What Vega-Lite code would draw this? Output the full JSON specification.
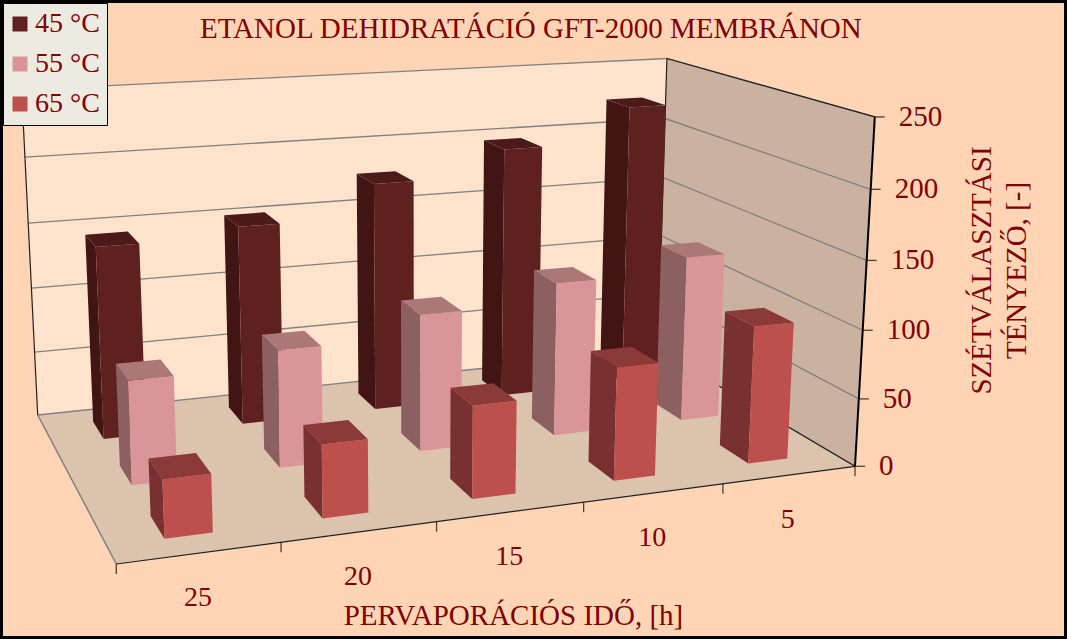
{
"$schema":"https://vega.github.io/schema/vega-lite/v6.json",
"width":1067,"height":639,"autosize":"none","padding":0,
"background":"#FFD5B5",
"view":{"stroke":"#000000","strokeWidth":6,"fill":"#FFD5B5"},
"config":{"font":"Liberation Serif"},
"title":{"text":"ETANOL DEHIDRATÁCIÓ GFT-2000 MEMBRÁNON","font":"Liberation Serif","fontSize":29,"fontWeight":"normal","color":"#800000","anchor":"start","frame":"group","dx":200,"offset":-44},
"datasets":{
"bars":[
{"ora":5,"temp":45,"ertek":224},{"ora":10,"temp":45,"ertek":197},{"ora":15,"temp":45,"ertek":177},{"ora":20,"temp":45,"ertek":152},{"ora":25,"temp":45,"ertek":145},
{"ora":5,"temp":55,"ertek":127},{"ora":10,"temp":55,"ertek":116},{"ora":15,"temp":55,"ertek":102},{"ora":20,"temp":55,"ertek":86},{"ora":25,"temp":55,"ertek":75},
{"ora":5,"temp":65,"ertek":101},{"ora":10,"temp":65,"ertek":82},{"ora":15,"temp":65,"ertek":66},{"ora":20,"temp":65,"ertek":51},{"ora":25,"temp":65,"ertek":40}
],
"walls":[
{"shade":"back wall","c":0,"s":0,"t":1,"w":0},{"shade":"back wall","c":1,"s":1,"t":1,"w":0},{"shade":"back wall","c":2,"s":1,"t":1,"w":1},{"shade":"back wall","c":3,"s":0,"t":1,"w":1},
{"shade":"side wall","c":0,"s":1,"t":1,"w":0},{"shade":"side wall","c":1,"s":1,"t":0,"w":0},{"shade":"side wall","c":2,"s":1,"t":0,"w":1},{"shade":"side wall","c":3,"s":1,"t":1,"w":1},
{"shade":"floor","c":0,"s":0,"t":0,"w":0},{"shade":"floor","c":1,"s":1,"t":0,"w":0},{"shade":"floor","c":2,"s":1,"t":1,"w":0},{"shade":"floor","c":3,"s":0,"t":1,"w":0}
],
"thinEdges":[
{"edge":"back vertical","c":0,"s":1,"t":1,"w":0},{"edge":"back vertical","c":1,"s":1,"t":1,"w":1},
{"edge":"left vertical","c":0,"s":0,"t":1,"w":0},{"edge":"left vertical","c":1,"s":0,"t":1,"w":1},
{"edge":"side top","c":0,"s":1,"t":1,"w":1},{"edge":"side top","c":1,"s":1,"t":0,"w":1},
{"edge":"side bottom","c":0,"s":1,"t":1,"w":0},{"edge":"side bottom","c":1,"s":1,"t":0,"w":0},
{"edge":"front","c":0,"s":0,"t":0,"w":0},{"edge":"front","c":1,"s":1,"t":0,"w":0}
],
"thickEdges":[
{"edge":"right vertical","c":0,"s":1,"t":0,"w":0},{"edge":"right vertical","c":1,"s":1,"t":0,"w":1}
],
"grayEdges":[
{"edge":"floor left","c":0,"s":0,"t":0,"w":0},{"edge":"floor left","c":1,"s":0,"t":1,"w":0}
],
"valueTicks":[{"tick":0},{"tick":50},{"tick":100},{"tick":150},{"tick":200},{"tick":250}],
"hourEdges":[{"b":0},{"b":1},{"b":2},{"b":3},{"b":4},{"b":5}],
"hourLabels":[{"ora":25},{"ora":20},{"ora":15},{"ora":10},{"ora":5}]
},
"encoding":{
"x":{"field":"px","type":"quantitative","scale":{"domain":[0,1067],"nice":false,"zero":false},
"axis":{"title":"PERVAPORÁCIÓS IDŐ, [h]","titleFont":"Liberation Serif","titleFontSize":29,"titleFontWeight":"normal","titleColor":"#800000","titleX":513,"titleY":-15,"titleAlign":"center","titleBaseline":"alphabetic","labels":false,"ticks":false,"domain":false,"grid":false}},
"y":{"field":"py","type":"quantitative","scale":{"domain":[639,0],"nice":false,"zero":false},
"axis":{"orient":"right","title":["SZÉTVÁLASZTÁSI","TÉNYEZŐ, [-]"],"titleFont":"Liberation Serif","titleFontSize":29,"titleLineHeight":35,"titleFontWeight":"normal","titleColor":"#800000","titleAngle":-90,"titleX":-77,"titleY":270,"titleAlign":"center","titleBaseline":"alphabetic","labels":false,"ticks":false,"domain":false,"grid":false}}
},
"layer":[
{"data":{"name":"walls"},
"transform":[
{"calculate":"(865.4*datum.s-69.63*datum.t-21*datum.w+116.3)/(0.14819*datum.s+0.23794*datum.t+1-0.05*datum.w)","as":"px"},
{"calculate":"(-28.6*datum.s-50.25*datum.t-407*datum.w+564)/(0.14819*datum.s+0.23794*datum.t+1-0.05*datum.w)","as":"py"}],
"mark":{"type":"line","filled":true,"strokeWidth":0},
"encoding":{"detail":{"field":"shade"},"order":{"field":"c","type":"quantitative"},
"color":{"field":"shade","type":"nominal","legend":null,"scale":{
"domain":["back wall","side wall","floor","45 °C side","45 °C front","45 °C top","55 °C side","55 °C front","55 °C top","65 °C side","65 °C front","65 °C top"],
"range":["#FFE3CC","#CBB19F","#DCC3AE","#421515","#5F2020","#4C1A1A","#8C6060","#DA9598","#AC7777","#783030","#BD4F4C","#8B3939"]}}}},
{"data":{"name":"valueTicks"},
"transform":[
{"calculate":"[0,1,2]","as":"c"},{"flatten":["c"]},
{"calculate":"datum.c==0?0:1","as":"s"},{"calculate":"datum.c==2?0:1","as":"t"},{"calculate":"datum.tick/250","as":"w"},
{"calculate":"(865.4*datum.s-69.63*datum.t-21*datum.w+116.3)/(0.14819*datum.s+0.23794*datum.t+1-0.05*datum.w)","as":"px"},
{"calculate":"(-28.6*datum.s-50.25*datum.t-407*datum.w+564)/(0.14819*datum.s+0.23794*datum.t+1-0.05*datum.w)","as":"py"}],
"mark":{"type":"line","stroke":"#808080","strokeWidth":1.3},
"encoding":{"detail":{"field":"tick"},"order":{"field":"c","type":"quantitative"}}},
{"data":{"name":"grayEdges"},
"transform":[
{"calculate":"(865.4*datum.s-69.63*datum.t-21*datum.w+116.3)/(0.14819*datum.s+0.23794*datum.t+1-0.05*datum.w)","as":"px"},
{"calculate":"(-28.6*datum.s-50.25*datum.t-407*datum.w+564)/(0.14819*datum.s+0.23794*datum.t+1-0.05*datum.w)","as":"py"}],
"mark":{"type":"line","stroke":"#808080","strokeWidth":1.5},
"encoding":{"detail":{"field":"edge"},"order":{"field":"c","type":"quantitative"}}},
{"data":{"name":"thinEdges"},
"transform":[
{"calculate":"(865.4*datum.s-69.63*datum.t-21*datum.w+116.3)/(0.14819*datum.s+0.23794*datum.t+1-0.05*datum.w)","as":"px"},
{"calculate":"(-28.6*datum.s-50.25*datum.t-407*datum.w+564)/(0.14819*datum.s+0.23794*datum.t+1-0.05*datum.w)","as":"py"}],
"mark":{"type":"line","stroke":"#202020","strokeWidth":1.2},
"encoding":{"detail":{"field":"edge"},"order":{"field":"c","type":"quantitative"}}},
{"data":{"name":"thickEdges"},
"transform":[
{"calculate":"(865.4*datum.s-69.63*datum.t-21*datum.w+116.3)/(0.14819*datum.s+0.23794*datum.t+1-0.05*datum.w)","as":"px"},
{"calculate":"(-28.6*datum.s-50.25*datum.t-407*datum.w+564)/(0.14819*datum.s+0.23794*datum.t+1-0.05*datum.w)","as":"py"}],
"mark":{"type":"line","stroke":"#000000","strokeWidth":2},
"encoding":{"detail":{"field":"edge"},"order":{"field":"c","type":"quantitative"}}},
{"data":{"name":"bars"},
"transform":[
{"calculate":"['side','front','top']","as":"face"},{"flatten":["face"]},
{"calculate":"[0,1,2,3]","as":"c"},{"flatten":["c"]},
{"calculate":"((25-datum.ora)/5+0.5)/5","as":"sc"},
{"calculate":"((65-datum.temp)/10+0.5)/3","as":"tc"},
{"calculate":"datum.face=='side'?datum.sc-0.03:datum.sc+((datum.c==1||datum.c==2)?0.03:-0.03)","as":"s"},
{"calculate":"datum.face=='front'?datum.tc-0.068:datum.face=='side'?datum.tc+((datum.c==1||datum.c==2)?0.068:-0.068):datum.tc+(datum.c>=2?0.068:-0.068)","as":"t"},
{"calculate":"datum.face=='top'?datum.ertek/250:(datum.c>=2?datum.ertek/250:0)","as":"w"},
{"calculate":"datum.temp+' °C '+datum.face","as":"shade"},
{"calculate":"datum.temp+'-'+datum.ora+'-'+datum.face","as":"poly"},
{"calculate":"(865.4*datum.s-69.63*datum.t-21*datum.w+116.3)/(0.14819*datum.s+0.23794*datum.t+1-0.05*datum.w)","as":"px"},
{"calculate":"(-28.6*datum.s-50.25*datum.t-407*datum.w+564)/(0.14819*datum.s+0.23794*datum.t+1-0.05*datum.w)","as":"py"}],
"mark":{"type":"line","filled":true,"strokeWidth":0},
"encoding":{"detail":{"field":"poly"},"order":{"field":"c","type":"quantitative"},
"color":{"field":"shade","type":"nominal","legend":null}}},
{"data":{"name":"valueTicks"},
"transform":[
{"calculate":"1","as":"s"},{"calculate":"0","as":"t"},{"calculate":"datum.tick/250","as":"w"},
{"calculate":"(865.4*datum.s-69.63*datum.t-21*datum.w+116.3)/(0.14819*datum.s+0.23794*datum.t+1-0.05*datum.w)","as":"px"},
{"calculate":"(-28.6*datum.s-50.25*datum.t-407*datum.w+564)/(0.14819*datum.s+0.23794*datum.t+1-0.05*datum.w)","as":"py"}],
"mark":{"type":"tick","orient":"horizontal","size":10,"thickness":1.3,"xOffset":5,"color":"#000000"}},
{"data":{"name":"hourEdges"},
"transform":[
{"calculate":"datum.b/5","as":"s"},{"calculate":"0","as":"t"},{"calculate":"0","as":"w"},
{"calculate":"(865.4*datum.s-69.63*datum.t-21*datum.w+116.3)/(0.14819*datum.s+0.23794*datum.t+1-0.05*datum.w)","as":"px"},
{"calculate":"(-28.6*datum.s-50.25*datum.t-407*datum.w+564)/(0.14819*datum.s+0.23794*datum.t+1-0.05*datum.w)","as":"py"}],
"mark":{"type":"tick","orient":"vertical","size":10,"thickness":1.3,"yOffset":5,"color":"#000000"}},
{"data":{"name":"valueTicks"},
"transform":[
{"calculate":"1","as":"s"},{"calculate":"0","as":"t"},{"calculate":"datum.tick/250","as":"w"},
{"calculate":"(865.4*datum.s-69.63*datum.t-21*datum.w+116.3)/(0.14819*datum.s+0.23794*datum.t+1-0.05*datum.w)","as":"px"},
{"calculate":"(-28.6*datum.s-50.25*datum.t-407*datum.w+564)/(0.14819*datum.s+0.23794*datum.t+1-0.05*datum.w)","as":"py"}],
"mark":{"type":"text","align":"left","baseline":"middle","dx":24,"font":"Liberation Serif","fontSize":29,"color":"#800000"},
"encoding":{"text":{"field":"tick","type":"quantitative"}}},
{"data":{"name":"hourLabels"},
"transform":[
{"calculate":"((25-datum.ora)/5+0.5)/5","as":"s"},{"calculate":"0","as":"t"},{"calculate":"0","as":"w"},
{"calculate":"(865.4*datum.s-69.63*datum.t-21*datum.w+116.3)/(0.14819*datum.s+0.23794*datum.t+1-0.05*datum.w)","as":"px"},
{"calculate":"(-28.6*datum.s-50.25*datum.t-407*datum.w+564)/(0.14819*datum.s+0.23794*datum.t+1-0.05*datum.w)","as":"py"}],
"mark":{"type":"text","align":"center","baseline":"middle","dx":-2,"dy":45,"font":"Liberation Serif","fontSize":28,"color":"#800000"},
"encoding":{"text":{"field":"ora","type":"quantitative"}}},
{"data":{"name":"bars"},
"transform":[{"calculate":"datum.temp+' °C'","as":"label"}],
"mark":{"type":"point","filled":true,"size":0},
"encoding":{"fill":{"field":"label","type":"nominal",
"scale":{"domain":["45 °C","55 °C","65 °C"],"range":["#5F2020","#DA9598","#BD4F4C"]},
"legend":{"title":null,"orient":"none","legendX":3,"legendY":3,"fillColor":"#ECEBE1","strokeColor":"#000000","padding":7,"symbolType":"square","symbolSize":225,"symbolStrokeWidth":0,"symbolOpacity":1,"symbolOffset":-4,"labelFont":"Liberation Serif","labelFontSize":28,"labelColor":"#800000","labelOffset":1,"rowPadding":12}}}}
]
}
